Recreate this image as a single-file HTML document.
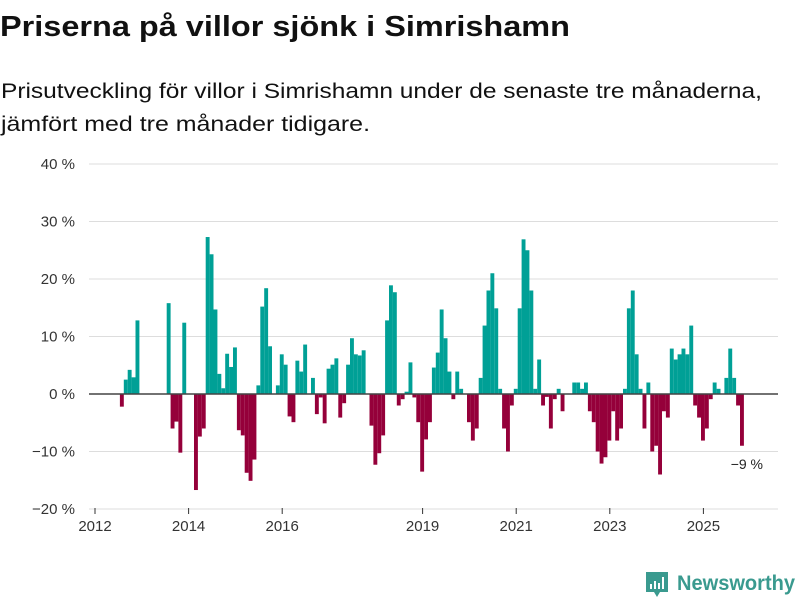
<!DOCTYPE html>
<html><head><meta charset="utf-8"><style>
html,body{margin:0;padding:0;background:#fff;}
svg{display:block;font-family:"Liberation Sans","DejaVu Sans",sans-serif;}
</style></head><body>
<svg id="chart" width="800" height="600" viewBox="0 0 800 600">
<text x="0" y="36" font-size="29" font-weight="bold" fill="#111" textLength="570" lengthAdjust="spacingAndGlyphs">Priserna på villor sjönk i Simrishamn</text>
<text x="1" y="98" font-size="21" fill="#111" textLength="761" lengthAdjust="spacingAndGlyphs">Prisutveckling för villor i Simrishamn under de senaste tre månaderna,</text>
<text x="1" y="131" font-size="21" fill="#111" textLength="369" lengthAdjust="spacingAndGlyphs">jämfört med tre månader tidigare.</text>
<g id="grid"></g>
<g id="bars"></g>
<g id="xaxis"></g>
<text x="763" y="469" font-size="14" fill="#222" text-anchor="end">−9 %</text>
<g>
<path d="M646 572 h22 v20 h-8 l-3 5 l-3 -5 h-8 z" fill="#3a9a8f"/>
<rect x="650" y="584" width="2" height="5" fill="#fff"/><rect x="654" y="581" width="2" height="8" fill="#fff"/><rect x="658" y="583" width="2" height="6" fill="#fff"/><rect x="662" y="577" width="2" height="12" fill="#fff"/>
<text x="677" y="590" font-size="21" font-weight="bold" fill="#3a9a8f" textLength="118" lengthAdjust="spacingAndGlyphs">Newsworthy</text>
</g>
</svg>
<script>
// monthly values, starting Jan 2012 (month index 0)
const startYear = 2012;
const values = [0,0,0,0,0,0,-2.2,2.5,4.2,2.9,12.8,0,0,0,0,0,0,0,15.8,-6.0,-4.8,-10.2,12.4,0,0,-16.7,-7.4,-6.0,27.3,24.3,14.7,3.5,1.0,7.0,4.7,8.1,-6.3,-7.2,-13.7,-15.1,-11.4,1.5,15.2,18.4,8.3,0,1.5,6.9,5.1,-3.9,-4.9,5.8,3.9,8.6,0,2.8,-3.5,-0.6,-5.1,4.4,5.1,6.2,-4.1,-1.6,5.1,9.7,6.9,6.7,7.6,0,-5.5,-12.3,-10.3,-7.2,12.8,18.9,17.7,-2.0,-0.9,0.4,5.5,-0.6,-4.9,-13.5,-7.9,-4.9,4.6,7.2,14.7,9.7,3.9,-0.9,3.9,0.9,0,-4.9,-8.1,-6.0,2.8,11.9,18.0,21.0,14.9,0.9,-6.0,-10.0,-2.0,0.9,14.9,26.9,25.0,18.0,0.9,6.0,-2.0,-0.5,-6.0,-0.9,0.9,-3.0,0,0,2.0,2.0,0.9,2.0,-3.0,-4.9,-10.0,-12.1,-11.0,-8.1,-3.0,-8.1,-6.0,0.9,14.9,18.0,6.9,0.9,-6.0,2.0,-10.0,-9.0,-14.0,-3.0,-4.1,7.9,6.0,6.9,7.9,6.9,11.9,-2.0,-4.1,-8.1,-6.0,-0.9,2.0,0.9,0,2.8,7.9,2.8,-2.0,-9.0];
const yTicks = [40,30,20,10,0,-10,-20];
const yTickLabels = ["40 %","30 %","20 %","10 %","0 %","−10 %","−20 %"];
const xTicks = [2012,2014,2016,2019,2021,2023,2025];
const NS = "http://www.w3.org/2000/svg";
function y(v){ return 394 - v*5.75; }
function xm(m){ return 95 + m*3.9; }
function xy(yr){ return xm((yr-startYear)*12); }
const grid = document.getElementById('grid');
yTicks.forEach((t,i)=>{
  const l = document.createElementNS(NS,'line');
  l.setAttribute('x1',89); l.setAttribute('x2',778);
  l.setAttribute('y1',y(t)); l.setAttribute('y2',y(t));
  l.setAttribute('stroke','#ddd'); l.setAttribute('stroke-width','1');
  
  
  grid.appendChild(l);
  const tx = document.createElementNS(NS,'text');
  tx.setAttribute('x',75); tx.setAttribute('y',y(t)+5);
  tx.setAttribute('text-anchor','end'); tx.setAttribute('font-size','15'); tx.setAttribute('fill','#333');
  tx.textContent = yTickLabels[i];
  
  
  grid.appendChild(tx);
});
const bars = document.getElementById('bars');
values.forEach((v,m)=>{
  if(v===0) return;
  const r = document.createElementNS(NS,'rect');
  r.setAttribute('x',xm(m)+1.5); r.setAttribute('width',3.9);
  r.setAttribute('y',Math.min(y(v),y(0))); r.setAttribute('height',Math.abs(y(v)-y(0)));
  r.setAttribute('fill', v>0 ? '#00a096' : '#95003a');
  
  
  bars.appendChild(r);
});
const zl = document.createElementNS(NS,'line');
zl.setAttribute('x1',89); zl.setAttribute('x2',778); zl.setAttribute('y1',y(0)); zl.setAttribute('y2',y(0));
zl.setAttribute('stroke','#444'); zl.setAttribute('stroke-width','1.5');


bars.appendChild(zl);
const xa = document.getElementById('xaxis');
xTicks.forEach(t=>{
  const l = document.createElementNS(NS,'line');
  l.setAttribute('x1',xy(t)); l.setAttribute('x2',xy(t)); l.setAttribute('y1',508); l.setAttribute('y2',514);
  l.setAttribute('stroke','#333');
  
  
  xa.appendChild(l);
  const tx = document.createElementNS(NS,'text');
  tx.setAttribute('x',xy(t)); tx.setAttribute('y',531);
  tx.setAttribute('text-anchor','middle'); tx.setAttribute('font-size','15'); tx.setAttribute('fill','#333');
  tx.textContent = t;
  
  
  xa.appendChild(tx);
});
</script>
</body></html>
